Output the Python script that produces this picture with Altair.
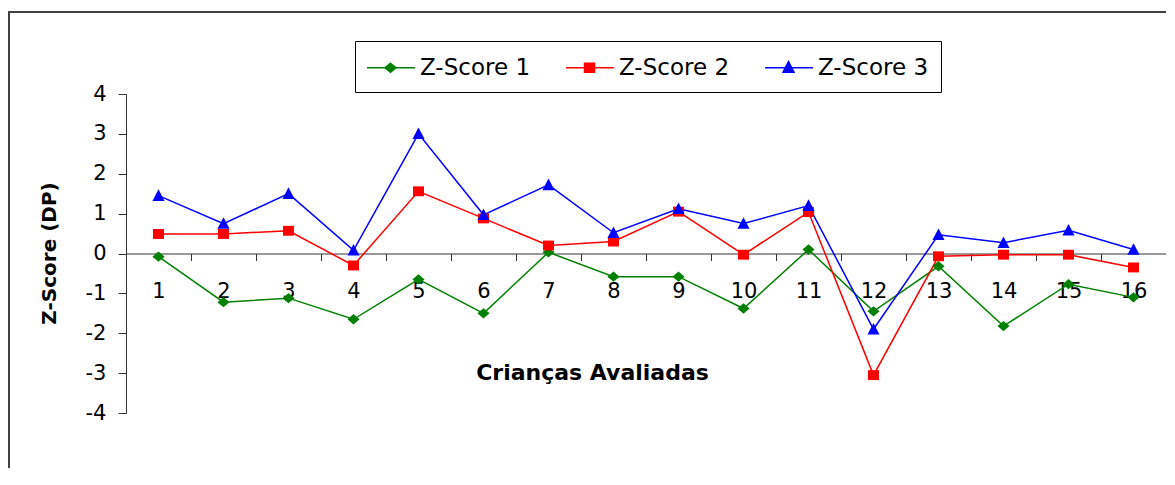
import altair as alt
import pandas as pd

# ---- data ----
criancas = list(range(1, 17))
series = ["Z-Score 1", "Z-Score 2", "Z-Score 3"]
colors = ["#008000", "#FF0000", "#0000FF"]
z1 = [-0.08, -1.22, -1.12, -1.65, -0.65, -1.50, 0.03, -0.58, -0.58, -1.38, 0.10, -1.45, -0.32, -1.82, -0.77, -1.10]
z2 = [0.49, 0.49, 0.57, -0.30, 1.56, 0.88, 0.20, 0.30, 1.05, -0.03, 1.04, -3.05, -0.07, -0.03, -0.03, -0.35]
z3 = [1.45, 0.75, 1.50, 0.08, 3.00, 0.97, 1.72, 0.52, 1.12, 0.75, 1.20, -1.90, 0.47, 0.27, 0.58, 0.10]
y_ticks = [-4, -3, -2, -1, 0, 1, 2, 3, 4]

rows = []
for s, vals in zip(series, [z1, z2, z3]):
    for c, v in zip(criancas, vals):
        rows.append({"crianca": c, "serie": s, "valor": v})
df = pd.DataFrame(rows)

FONT = "DejaVu Sans"

# marker shapes (slightly wider than tall, like the reference)
marker_paths = [
    "M-1.1,0L0,-0.94L1.1,0L0,0.94Z",
    "M-1,-0.9H1V0.9H-1Z",
    "M0,-1.15L1.1,0.95H-1.1Z",
]
# legend symbols: line segment with the marker in its middle
leg_paths = [
    "M-1.055,0H2.436M0.655,-0.33L1.055,0L0.655,0.33L0.255,0Z",
    "M-1.055,0H2.436M0.29,-0.33H1.02V0.33H0.29Z",
    "M-1.055,0H2.436M0.655,-0.44L1.055,0.33H0.255Z",
]

color_scale = alt.Scale(domain=series, range=colors)

x_enc = alt.X(
    "crianca:O",
    scale=alt.Scale(type="band", paddingInner=0, paddingOuter=0),
    bandPosition=0.5,
    axis=alt.Axis(
        title="Crianças Avaliadas", orient="bottom", offset=-159.5, tickBand="extent",
        tickSize=7, labelPadding=20, labelAngle=0, labelFont=FONT, labelFontSize=21,
        labelColor="#000", domainColor="#333", tickColor="#333", titleFont=FONT,
        titleFontSize=22, titleFontWeight="bold", titleColor="#000", titleX=466,
        titleY=119, titleAlign="center", titleBaseline="middle",
    ),
)
y_enc = alt.Y(
    "valor:Q",
    scale=alt.Scale(domain=[-4, 4], nice=False, zero=False),
    axis=alt.Axis(
        title="Z-Score (DP)", values=y_ticks, labelExpr="'' + datum.value", grid=False,
        tickSize=8, labelPadding=12, labelFont=FONT, labelFontSize=21, labelColor="#000",
        domainColor="#333", tickColor="#333", titleFont=FONT, titleFontSize=20,
        titleFontWeight="bold", titleColor="#000", titleAngle=270, titleX=-77, titleY=159,
        titleAlign="center", titleBaseline="middle",
    ),
)

legend = alt.Legend(
    title=None, orient="none", legendX=229, legendY=-53, direction="horizontal",
    padding=12, strokeColor="#000", fillColor="#fff", labelFont=FONT, labelFontSize=23,
    labelColor="#000", labelOffset=24, columnPadding=31, symbolSize=756,
    symbolStrokeWidth=1.5, symbolOpacity=1,
)

frame = alt.Chart(pd.DataFrame({"k": [0]})).mark_rect(
    fill="transparent", stroke="#404040", strokeWidth=2
).encode(x=alt.value(-117), x2=alt.value(1300), y=alt.value(-82), y2=alt.value(700))

lines = alt.Chart(df).mark_line(strokeWidth=1.5).encode(
    x=x_enc, y=y_enc,
    color=alt.Color("serie:N", scale=color_scale, legend=None),
    detail="serie:N",
)

points = alt.Chart(df).mark_point(filled=True, opacity=1, size=121, strokeWidth=0).encode(
    x=x_enc, y=y_enc,
    color=alt.Color("serie:N", scale=color_scale, legend=None),
    shape=alt.Shape("serie:N", scale=alt.Scale(domain=series, range=marker_paths), legend=None),
)

# legend-only layer (draws no marks): line + marker symbols
legend_layer = alt.Chart(df).transform_filter("false").mark_point(
    opacity=1, size=756, strokeWidth=1.5
).encode(
    x=x_enc, y=y_enc,
    fill=alt.Fill("serie:N", scale=color_scale, legend=legend),
    stroke=alt.Stroke("serie:N", scale=color_scale, legend=legend),
    shape=alt.Shape("serie:N", scale=alt.Scale(domain=series, range=leg_paths), legend=legend),
)

chart = alt.layer(frame, lines, points, legend_layer).resolve_scale(
    shape="independent", fill="independent", stroke="independent"
).properties(
    width=1040, height=319,
    padding={"left": 118, "top": 86, "right": 0, "bottom": 55},
    autosize=alt.AutoSizeParams(type="none"), background="#ffffff",
).configure_view(stroke=None)

chart.save("out.html", embed_options={"renderer": "svg", "actions": False})
